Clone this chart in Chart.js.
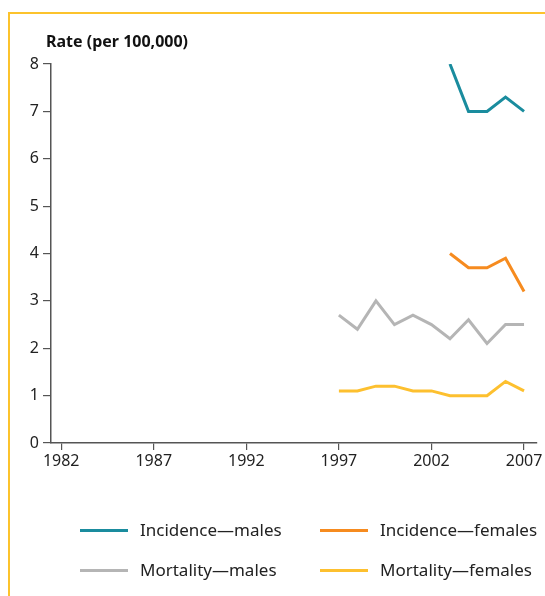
<!DOCTYPE html>
<html>
<head>
<meta charset="utf-8">
<script src="https://cdn.jsdelivr.net/npm/chart.js@4"></script>
<style>
  body { margin: 0; background: #fff; font-family: "Noto Sans", sans-serif; }
  #wrap { position: relative; width: 545px; height: 596px; overflow: hidden; }
  #frame { position: absolute; left: 8px; top: 12px; right: -3px; bottom: -3px;
           border-left: 2px solid #fcc32c; border-top: 2px solid #fcc32c; }
  #title { position: absolute; left: 46px; top: 30px; font-weight: bold; font-size: 16px; color: #111; }
  canvas { position: absolute; left: 0; top: 0; }
  .item { position: absolute; font-size: 17px; color: #222; line-height: 20px; }
  .item span.sw { position: absolute; top: 9px; width: 48px; height: 3px; }
</style>
</head>
<body>
<div id="wrap">
  <div id="frame"></div>
  <canvas id="myChart" width="545" height="596"></canvas>
  <div id="title">Rate (per 100,000)</div>
  <div id="legend"></div>
</div>
<script>
const incYears = [2003, 2004, 2005, 2006, 2007];
const incMales = [8.0, 7.0, 7.0, 7.3, 7.0];
const incFemales = [4.0, 3.7, 3.7, 3.9, 3.2];

const mortYears = [1997, 1998, 1999, 2000, 2001, 2002, 2003, 2004, 2005, 2006, 2007];
const mortMales = [2.7, 2.4, 3.0, 2.5, 2.7, 2.5, 2.2, 2.6, 2.1, 2.5, 2.5];
const mortFemales = [1.1, 1.1, 1.2, 1.2, 1.1, 1.1, 1.0, 1.0, 1.0, 1.3, 1.1];

const xTicks = [1982, 1987, 1992, 1997, 2002, 2007];
const yTicks = [0, 1, 2, 3, 4, 5, 6, 7, 8];

const labels = ['Incidence\u2014males', 'Incidence\u2014females', 'Mortality\u2014males', 'Mortality\u2014females'];
const colors = ['#1a8c9e', '#f68b1f', '#b5b5b5', '#fdc02f'];

function pairs(xs, ys) {
  return xs.map((x, i) => ({ x: x, y: ys[i] }));
}

const ctx = document.getElementById('myChart').getContext('2d');

const series = [pairs(incYears, incMales), pairs(incYears, incFemales),
                pairs(mortYears, mortMales), pairs(mortYears, mortFemales)];

const datasets = series.map((d, i) => ({
  label: labels[i],
  data: d,
  borderColor: colors[i],
  backgroundColor: colors[i],
  borderWidth: 3,
  pointRadius: 0,
  tension: 0,
  borderJoinStyle: 'miter',
  fill: false
}));

const axisColor = '#555';
const tickFont = { family: 'Noto Sans', size: 16 };

const myChart = new Chart(ctx, {
  type: 'line',
  data: { datasets: datasets },
  options: {
    responsive: false,
    animation: false,
    layout: { padding: { top: 64, left: 0, right: 8, bottom: 123 } },
    plugins: { legend: { display: false }, tooltip: { enabled: false } },
    scales: {
      x: {
        type: 'linear',
        min: 1981.45,
        max: 2007.7,
        afterBuildTicks: s => { s.ticks = xTicks.map(v => ({ value: v })); },
        afterFit: s => { s.height = 30; },
        ticks: { color: '#222', font: tickFont, padding: 2, maxRotation: 0, callback: v => String(v) },
        grid: { drawOnChartArea: false, tickLength: 7, color: axisColor, lineWidth: 1.2 },
        border: { color: axisColor, width: 1.5 }
      },
      y: {
        min: 0,
        max: 8,
        afterBuildTicks: s => { s.ticks = yTicks.map(v => ({ value: v })); },
        afterFit: s => { s.width = 51; },
        ticks: { color: '#222', font: tickFont, padding: 4 },
        grid: { drawOnChartArea: false, tickLength: 8, color: axisColor, lineWidth: 1.2 },
        border: { color: axisColor, width: 1.5 }
      }
    }
  }
});

// legend, 2 columns
const legend = document.getElementById('legend');
const colX = [80, 320];
const rowY = [520, 560];
labels.forEach((lab, i) => {
  const el = document.createElement('div');
  el.className = 'item';
  el.style.left = colX[i % 2] + 'px';
  el.style.top = rowY[Math.floor(i / 2)] + 'px';
  el.innerHTML = '<span class="sw" style="left:0;background:' + colors[i] + '"></span>' +
                 '<span style="margin-left:60px">' + lab + '</span>';
  legend.appendChild(el);
});
</script>
</body>
</html>
